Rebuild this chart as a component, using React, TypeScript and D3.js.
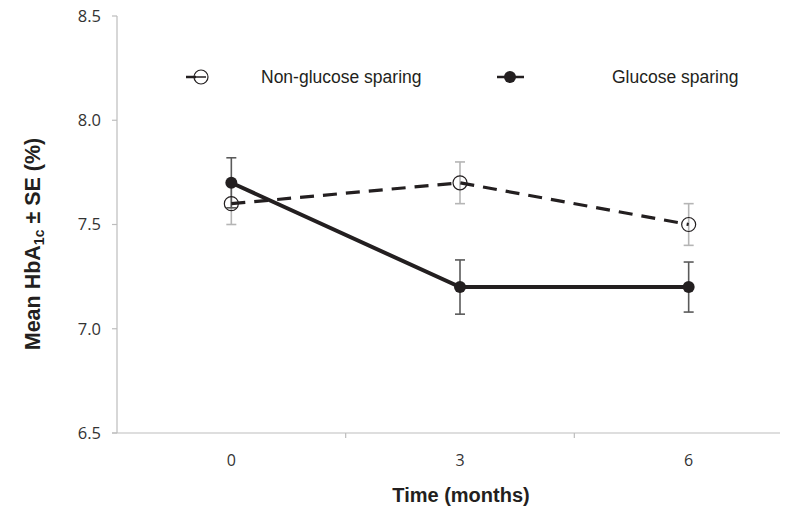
import React, { useEffect, useRef } from "react";
import * as d3 from "d3";

const months = ["0", "3", "6"];
const nonSparingMean = [7.6, 7.7, 7.5];
const nonSparingSE = [0.1, 0.1, 0.1];
const sparingMean = [7.7, 7.2, 7.2];
const sparingSE = [0.12, 0.13, 0.12];
const yTicks = [6.5, 7.0, 7.5, 8.0, 8.5];

const W = 792;
const H = 512;

const App = () => {
  const svgRef = useRef<SVGSVGElement>(null);

  useEffect(() => {
    const svg = d3.select(svgRef.current);
    svg.selectAll("*").remove();

    const left = 117;
    const top = 16;
    const bottom = 433;

    const y = d3.scaleLinear().domain([6.5, 8.5]).range([bottom, top]);
    const x = d3.scaleBand().domain(months).range([left, 803]);
    const cx = (d: string) => (x(d) as number) + x.bandwidth() / 2;

    const axisColor = "#bdbdbd";

    // y axis
    const yAxis = svg.append("g");
    yAxis
      .append("line")
      .attr("x1", left)
      .attr("x2", left)
      .attr("y1", top)
      .attr("y2", bottom)
      .attr("stroke", axisColor)
      .attr("stroke-width", 1.2);
    yAxis
      .selectAll(".yt")
      .data(yTicks)
      .enter()
      .append("line")
      .attr("x1", left - 5)
      .attr("x2", left)
      .attr("y1", (d) => y(d))
      .attr("y2", (d) => y(d))
      .attr("stroke", axisColor)
      .attr("stroke-width", 1.2);
    yAxis
      .selectAll(".yl")
      .data(yTicks)
      .enter()
      .append("text")
      .attr("x", left - 16)
      .attr("y", (d) => y(d))
      .attr("dy", "0.35em")
      .attr("text-anchor", "end")
      .attr("font-family", "Open Sans, sans-serif")
      .attr("font-size", 16.5)
      .attr("fill", "#333")
      .text((d) => d.toFixed(1));

    // x axis
    const xAxis = svg.append("g");
    xAxis
      .append("line")
      .attr("x1", left - 5)
      .attr("x2", 780)
      .attr("y1", bottom)
      .attr("y2", bottom)
      .attr("stroke", axisColor)
      .attr("stroke-width", 1.2);
    xAxis
      .selectAll(".xt")
      .data(months.slice(1))
      .enter()
      .append("line")
      .attr("x1", (d) => x(d) as number)
      .attr("x2", (d) => x(d) as number)
      .attr("y1", bottom)
      .attr("y2", bottom + 5)
      .attr("stroke", axisColor)
      .attr("stroke-width", 1.2);
    xAxis
      .selectAll(".xl")
      .data(months)
      .enter()
      .append("text")
      .attr("x", (d) => cx(d))
      .attr("y", 460)
      .attr("dy", "0.35em")
      .attr("text-anchor", "middle")
      .attr("font-family", "Open Sans, sans-serif")
      .attr("font-size", 16)
      .attr("fill", "#333")
      .text((d) => d);

    // axis titles
    svg
      .append("text")
      .attr("x", 461)
      .attr("y", 502)
      .attr("text-anchor", "middle")
      .attr("font-family", "Liberation Sans, Arial, sans-serif")
      .attr("font-weight", "bold")
      .attr("font-size", 20)
      .attr("fill", "#231f20")
      .text("Time (months)");

    const yt = svg
      .append("text")
      .attr("transform", `translate(40,244) rotate(-90)`)
      .attr("text-anchor", "middle")
      .attr("font-family", "Liberation Sans, Arial, sans-serif")
      .attr("font-weight", "bold")
      .attr("font-size", 21.5)
      .attr("fill", "#231f20");
    yt.append("tspan").text("Mean HbA");
    yt.append("tspan").attr("font-size", 14).attr("dy", 4).text("1c");
    yt.append("tspan").attr("dy", -4).text(" \u00b1 SE (%)");

    const nonData = months.map((m, i) => ({ m, v: nonSparingMean[i], se: nonSparingSE[i] }));
    const spData = months.map((m, i) => ({ m, v: sparingMean[i], se: sparingSE[i] }));

    const line = d3
      .line<{ m: string; v: number }>()
      .x((d) => cx(d.m))
      .y((d) => y(d.v));

    const errorBars = (data: typeof nonData, color: string) => {
      const g = svg.append("g").attr("stroke", color).attr("stroke-width", 1.6);
      data.forEach((d) => {
        const x0 = cx(d.m);
        g.append("line").attr("x1", x0).attr("x2", x0).attr("y1", y(d.v - d.se)).attr("y2", y(d.v + d.se));
        [d.v - d.se, d.v + d.se].forEach((v) => {
          g.append("line").attr("x1", x0 - 5).attr("x2", x0 + 5).attr("y1", y(v)).attr("y2", y(v));
        });
      });
    };

    errorBars(nonData, "#b5b5b5");
    errorBars(spData, "#5a5a5a");

    svg
      .append("path")
      .datum(nonData)
      .attr("d", line)
      .attr("fill", "none")
      .attr("stroke", "#231f20")
      .attr("stroke-width", 3.2)
      .attr("stroke-dasharray", "14,9");

    svg
      .append("path")
      .datum(spData)
      .attr("d", line)
      .attr("fill", "none")
      .attr("stroke", "#231f20")
      .attr("stroke-width", 4);

    svg
      .selectAll(".open")
      .data(nonData)
      .enter()
      .append("circle")
      .attr("cx", (d) => cx(d.m))
      .attr("cy", (d) => y(d.v))
      .attr("r", 7)
      .attr("fill", "none")
      .attr("stroke", "#231f20")
      .attr("stroke-width", 1.2);

    svg
      .selectAll(".filled")
      .data(spData)
      .enter()
      .append("circle")
      .attr("cx", (d) => cx(d.m))
      .attr("cy", (d) => y(d.v))
      .attr("r", 6)
      .attr("fill", "#231f20");

    // legend
    const lg = svg.append("g");
    lg.append("line")
      .attr("x1", 186).attr("x2", 196).attr("y1", 77).attr("y2", 77)
      .attr("stroke", "#231f20").attr("stroke-width", 2.5);
    lg.append("circle")
      .attr("cx", 201).attr("cy", 77).attr("r", 7)
      .attr("fill", "none").attr("stroke", "#231f20").attr("stroke-width", 1.2);
    lg.append("line")
      .attr("x1", 196).attr("x2", 206).attr("y1", 77).attr("y2", 77)
      .attr("stroke", "#231f20").attr("stroke-width", 1.5);
    lg.append("text")
      .attr("x", 261).attr("y", 77).attr("dy", "0.35em")
      .attr("font-family", "Liberation Sans, Arial, sans-serif")
      .attr("font-size", 17.5).attr("fill", "#231f20")
      .text("Non-glucose sparing");

    lg.append("line")
      .attr("x1", 497).attr("x2", 524).attr("y1", 77).attr("y2", 77)
      .attr("stroke", "#231f20").attr("stroke-width", 2.5);
    lg.append("circle")
      .attr("cx", 510).attr("cy", 77).attr("r", 6)
      .attr("fill", "#231f20");
    lg.append("text")
      .attr("x", 612).attr("y", 77).attr("dy", "0.35em")
      .attr("font-family", "Liberation Sans, Arial, sans-serif")
      .attr("font-size", 17.5).attr("fill", "#231f20")
      .text("Glucose sparing");
  }, []);

  return (
    <svg
      ref={svgRef}
      width={W}
      height={H}
      style={{ position: "absolute", left: 0, top: 0, background: "#fff" }}
    />
  );
};

export default App;
